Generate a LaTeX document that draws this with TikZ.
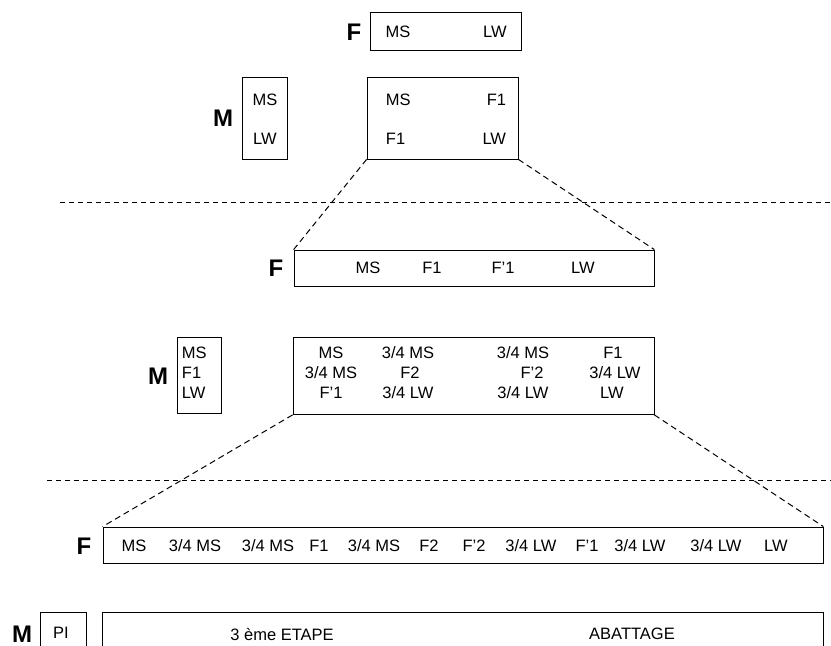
\documentclass[tikz,border=0pt]{standalone}
\usepackage{fontspec}
\setmainfont{Liberation Sans}
\usepackage{tikz}
\usetikzlibrary{calc}
\tikzset{
  box/.style={draw, line width=0.8pt, inner sep=0pt},
  lbl/.style={inner sep=0.75pt, font=\fontsize{16.5}{19}\selectfont},
  sex/.style={inner sep=0.75pt, font=\fontsize{24}{26}\selectfont\bfseries},
  zoomline/.style={line width=1pt, dash pattern={on 6pt off 4pt}},
  sepline/.style={line width=1pt, dash pattern={on 5pt off 4pt}}
}

\begin{document}
\begin{tikzpicture}[x=1pt,y=1pt,yscale=-1,xscale=1]
\clip (0,0) rectangle (831,646);

%Shape: Rect [id:ftop] 
\node[box, minimum width=151pt, minimum height=38pt] (ftop) at (445.5,31) {};
%Shape: Rect [id:mone] 
\node[box, minimum width=45pt, minimum height=82pt] (mone) at (264.5,118) {};
%Shape: Rect [id:cone] 
\node[box, minimum width=151pt, minimum height=82pt] (cone) at (442.5,118) {};
%Shape: Rect [id:ftwo] 
\node[box, minimum width=360pt, minimum height=36pt] (ftwo) at (474,268) {};
%Shape: Rect [id:mtwo] 
\node[box, minimum width=44pt, minimum height=76pt] (mtwo) at (199,375.5) {};
%Shape: Rect [id:ctwo] 
\node[box, minimum width=361pt, minimum height=77pt] (ctwo) at (473.5,376) {};
%Shape: Rect [id:fthree] 
\node[box, minimum width=720pt, minimum height=36pt] (fthree) at (463,545) {};
%Shape: Rect [id:mthree] 
\node[box, minimum width=46pt, minimum height=48pt] (mthree) at (63,636) {};
%Shape: Rect [id:etape] 
\node[box, minimum width=721pt, minimum height=48pt] (etape) at (462.5,636) {};

%Straight Lines [id:sepa] 
\coordinate (sepa-l) at (60,202);
\coordinate (sepa-r) at (831,202);
\draw[sepline] (sepa-l) -- (sepa-r);
%Straight Lines [id:sepb] 
\coordinate (sepb-l) at (47,480);
\coordinate (sepb-r) at (831,480);
\draw[sepline] (sepb-l) -- (sepb-r);

%Straight Lines [id:zooms] 
\draw[zoomline] (cone.south west) -- (ftwo.north west);
\draw[zoomline] (cone.south east) -- (ftwo.north east);
\draw[zoomline] (ctwo.south west) -- (fthree.north west);
\draw[zoomline] (ctwo.south east) -- (fthree.north east);

% Text Node
\node[sex] (lf1) at (354,32) {F};
\node[lbl] (ftop-a) at (398,32) {MS};
\node[lbl] (ftop-b) at (495,32) {LW};
% Text Node
\node[sex] (lm1) at (223,118) {M};
\node[lbl] (mone-a) at (265,100) {MS};
\node[lbl] (mone-b) at (265,139) {LW};
% Text Node
\node[lbl, anchor=west] (cone-a) at (385,100) {MS};
\node[lbl, anchor=east] (cone-b) at (507,100) {F1};
\node[lbl, anchor=west] (cone-c) at (385,139) {F1};
\node[lbl, anchor=east] (cone-d) at (507,139) {LW};
% Text Node
\node[sex] (lf2) at (276,268) {F};
\node[lbl] (ftwo-a) at (368,268) {MS};
\node[lbl] (ftwo-b) at (432,268) {F1};
\node[lbl] (ftwo-c) at (503,268) {F'1};
\node[lbl] (ftwo-d) at (583,268) {LW};
% Text Node
\node[sex] (lm2) at (158,376) {M};
\node[lbl, anchor=west] (mtwo-a) at (181,353) {MS};
\node[lbl, anchor=west] (mtwo-b) at (181,373) {F1};
\node[lbl, anchor=west] (mtwo-c) at (181,393) {LW};
% Text Node
\node[lbl] (ctwo-a) at (331,353) {MS};
\node[lbl] (ctwo-b) at (408,353) {3/4 MS};
\node[lbl] (ctwo-c) at (523,353) {3/4 MS};
\node[lbl] (ctwo-d) at (613,353) {F1};
\node[lbl] (ctwo-e) at (331,373) {3/4 MS};
\node[lbl] (ctwo-f) at (410,373) {F2};
\node[lbl] (ctwo-g) at (532,373) {F'2};
\node[lbl] (ctwo-h) at (615,373) {3/4 LW};
\node[lbl] (ctwo-i) at (331,393) {F'1};
\node[lbl] (ctwo-j) at (408,393) {3/4 LW};
\node[lbl] (ctwo-k) at (523,393) {3/4 LW};
\node[lbl] (ctwo-l) at (612,393) {LW};
% Text Node
\node[sex] (lf3) at (84,546) {F};
\node[lbl] (fthree-a) at (134,546) {MS};
\node[lbl] (fthree-b) at (195,546) {3/4 MS};
\node[lbl] (fthree-c) at (268,546) {3/4 MS};
\node[lbl] (fthree-d) at (319,546) {F1};
\node[lbl] (fthree-e) at (374,546) {3/4 MS};
\node[lbl] (fthree-f) at (429,546) {F2};
\node[lbl] (fthree-g) at (474,546) {F'2};
\node[lbl] (fthree-h) at (531,546) {3/4 LW};
\node[lbl] (fthree-i) at (587,546) {F'1};
\node[lbl] (fthree-j) at (640,546) {3/4 LW};
\node[lbl] (fthree-k) at (716,546) {3/4 LW};
\node[lbl] (fthree-l) at (776,546) {LW};
% Text Node
\node[sex] (lm3) at (22,634) {M};
\node[lbl] (mthree-a) at (61,633) {PI};
\node[lbl] (etape-a) at (282,634) {3 ème ETAPE};
\node[lbl] (etape-b) at (632,634) {ABATTAGE};

\end{tikzpicture}
\end{document}
